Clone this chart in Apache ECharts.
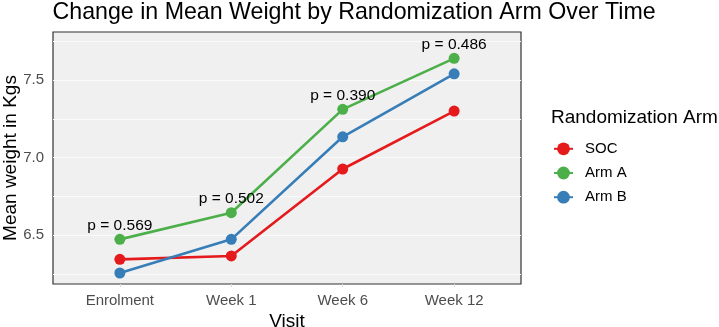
<!DOCTYPE html>
<html>
<head>
<meta charset="utf-8">
<script src="https://cdn.jsdelivr.net/npm/echarts@6/dist/echarts.min.js"></script>
<style>html,body{margin:0;padding:0;background:#fff}#c{width:719px;height:327px}</style>
</head>
<body>
<div id="c"></div>
<script>
const categories = ['Enrolment', 'Week 1', 'Week 6', 'Week 12'];
const socValues = [6.343, 6.365, 6.926, 7.300];
const armAValues = [6.472, 6.644, 7.311, 7.640];
const armBValues = [6.255, 6.472, 7.134, 7.540];
const pValues = ['p = 0.569', 'p = 0.502', 'p = 0.390', 'p = 0.486'];
const yTickLabels = [6.5, 7.0, 7.5];
const yGridValues = [6.25, 6.5, 6.75, 7.0, 7.25, 7.5, 7.75];

const FONT = '"Liberation Sans", Arial, sans-serif';
const toPairs = arr => arr.map((v, i) => [i, v]);

const chart = echarts.init(document.getElementById('c'), null, {renderer: 'canvas'});
function lineSeries(name, values, color, withLabels) {
  return {
    name: name, type: 'line', data: toPairs(values),
    symbol: 'circle', symbolSize: 11,
    lineStyle: {color: color, width: 2.6},
    itemStyle: {color: color},
    label: withLabels ? {
      show: true, position: 'top', distance: 0,
      formatter: p => pValues[p.dataIndex],
      color: '#000', fontFamily: FONT, fontSize: 15.5
    } : {show: false},
    emphasis: {disabled: true},
    animation: false, z: 3
  };
}
chart.setOption({
  animation: false,
  backgroundColor: '#fff',
  title: [{
    text: 'Change in Mean Weight by Randomization Arm Over Time',
    left: 52.5, top: 1.5, padding: 0,
    textStyle: {fontFamily: FONT, fontSize: 23.2, fontWeight: 'normal', color: '#000'}
  }, {
    text: 'Randomization Arm',
    left: 551, top: 108.5, padding: 0,
    textStyle: {fontFamily: FONT, fontSize: 19, fontWeight: 'normal', color: '#000'}
  }],
  legend: {
    orient: 'vertical', left: 548, top: 136.3,
    itemWidth: 19, itemHeight: 16, itemGap: 9.2,
    textStyle: {fontFamily: FONT, fontSize: 15, color: '#000', padding: [0, 0, 0, 7]},
    data: ['SOC', 'Arm A', 'Arm B']
  },
  grid: {left: 53, top: 32, right: 198, bottom: 43, show: true, outerBoundsMode: 'none',
    containLabel: false,
    backgroundColor: '#f0f0f0', borderColor: '#333', borderWidth: 1.2},
  xAxis: {
    type: 'value', min: -0.6, max: 3.6,
    name: 'Visit', nameLocation: 'middle', nameGap: 28, nameMoveOverlap: false,
    nameTextStyle: {fontFamily: FONT, fontSize: 19, color: '#000'},
    axisLine: {show: false},
    axisTick: {show: true, customValues: [0, 1, 2, 3], length: 3, lineStyle: {color: '#ddd'}},
    axisLabel: {customValues: [0, 1, 2, 3], formatter: v => categories[Math.round(v)] || '',
      fontFamily: FONT, fontSize: 15, color: '#4d4d4d', margin: 9},
    splitLine: {show: false}
  },
  yAxis: {
    type: 'value', min: 6.184, max: 7.81,
    name: 'Mean weight in Kgs', nameLocation: 'middle', nameGap: 33, nameMoveOverlap: false,
    nameTextStyle: {fontFamily: FONT, fontSize: 19, color: '#000'},
    axisLine: {show: false},
    axisTick: {show: false, customValues: yGridValues},
    axisLabel: {customValues: yTickLabels, formatter: v => v.toFixed(1),
      fontFamily: FONT, fontSize: 15, color: '#4d4d4d', margin: 9},
    splitLine: {show: true, lineStyle: {color: '#fafafa', width: 1}}
  },
  series: [
    lineSeries('SOC', socValues, '#E41A1C', false),
    lineSeries('Arm A', armAValues, '#4DAF4A', true),
    lineSeries('Arm B', armBValues, '#377EB8', false)
  ]
});
</script>
</body>
</html>
